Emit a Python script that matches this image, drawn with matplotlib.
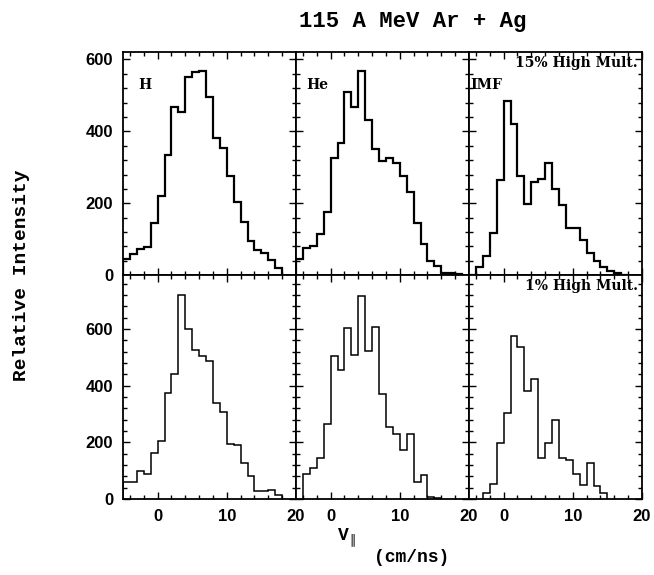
import numpy as np
import matplotlib
matplotlib.use("Agg")
import matplotlib.pyplot as plt
from matplotlib.ticker import MultipleLocator

# histogram contents, one unit bins (cm/ns), first edge given separately
h_top_start = -5
h_top = [44, 60, 72, 78, 145, 219, 333, 469, 453, 550, 565, 568, 495, 381, 353,
         275, 205, 148, 95, 69, 61, 43, 19]
he_top_start = -5
he_top = [44, 77, 81, 114, 175, 327, 367, 510, 469, 568, 432, 351, 317, 327, 312,
          275, 231, 145, 88, 39, 25, 5, 5, 4]
imf_top_start = -5
imf_top = [2, 23, 53, 117, 264, 485, 420, 276, 198, 259, 268, 312, 240, 195, 130,
           130, 97, 61, 39, 23, 11, 5, 2]

h_bot_start = -5
h_bot = [61, 61, 98, 87, 163, 204, 374, 441, 720, 600, 526, 506, 489, 340, 307,
         193, 190, 128, 81, 29, 29, 32, 14]
he_bot_start = -4
he_bot = [88, 108, 145, 266, 506, 457, 604, 510, 717, 521, 606, 372, 254, 231, 172,
          229, 59, 84, 8, 5]
imf_bot_start = -3
imf_bot = [22, 52, 196, 305, 577, 536, 381, 424, 143, 196, 278, 143, 137, 88, 49,
           128, 46, 20]

species = ["H", "He", "IMF"]
row_labels = ["15% High Mult.", "1% High Mult."]
x_ticks = [0, 10, 20]
y_ticks = [0, 200, 400, 600]

rows = [
    [(h_top_start, h_top), (he_top_start, he_top), (imf_top_start, imf_top)],
    [(h_bot_start, h_bot), (he_bot_start, he_bot), (imf_bot_start, imf_bot)],
]
row_ylim = [622, 790]
row_lw = [1.6, 1.1]

fig, axes = plt.subplots(2, 3, figsize=(6.54, 5.75), dpi=100)
fig.subplots_adjust(left=123/654, right=642/654, top=1-51.5/575, bottom=1-499/575,
                    hspace=0, wspace=0)

tick_font = {"family": "Liberation Sans", "weight": "bold", "size": 12}
label_font = dict(family="Liberation Mono", weight="bold")

for r in range(2):
    for c in range(3):
        ax = axes[r, c]
        start, vals = rows[r][c]
        edges = np.arange(start, start + len(vals) + 1)
        ax.stairs(vals, edges, color="black", lw=row_lw[r], baseline=0)
        ax.set_xlim(-5, 20)
        ax.set_ylim(0, row_ylim[r])
        ax.xaxis.set_major_locator(MultipleLocator(10))
        ax.xaxis.set_minor_locator(MultipleLocator(2))
        ax.set_yticks(y_ticks)
        ax.yaxis.set_minor_locator(MultipleLocator(40))
        ax.tick_params(which="both", direction="in", top=True, right=True,
                       width=1.0, pad=7)
        ax.tick_params(which="major", length=5)
        ax.tick_params(which="minor", length=3)
        for s in ax.spines.values():
            s.set_linewidth(1.3)
        if r == 0:
            ax.tick_params(labelbottom=False)
        else:
            ax.set_xticks(x_ticks)
            ax.set_xticklabels([str(t) for t in x_ticks], fontdict=tick_font)
        if c == 0:
            ax.set_yticklabels([str(t) for t in y_ticks], fontdict=tick_font)
        else:
            ax.tick_params(labelleft=False)
        if r == 0:
            ax.text([0.09, 0.06, 0.005][c], 0.85, species[c], transform=ax.transAxes,
                    family="DejaVu Serif", weight="bold", fontsize=10,
                    ha="left", va="center")
        if c == 2:
            ax.text(0.975, 0.95, row_labels[r], transform=ax.transAxes,
                    family="DejaVu Serif", weight="bold", fontsize=10,
                    ha="right", va="center")

fig.text(413/654, 1-21/575, "115 A MeV Ar + Ag", fontsize=16,
         ha="center", va="center", **label_font)
fig.text(22/654, 1-275/575, "Relative Intensity", fontsize=14,
         rotation=90, ha="center", va="center", **label_font)
fig.text(343/654, 1-535/575, "V", fontsize=13, ha="center", va="center",
         **label_font)
fig.text(352/654, 1-540/575, "\u2225", family="DejaVu Sans", fontsize=9,
         ha="center", va="center")
fig.text(412/654, 1-558/575, "(cm/ns)", fontsize=13, ha="center", va="center",
         **label_font)

fig.savefig("out.png", dpi=100)
